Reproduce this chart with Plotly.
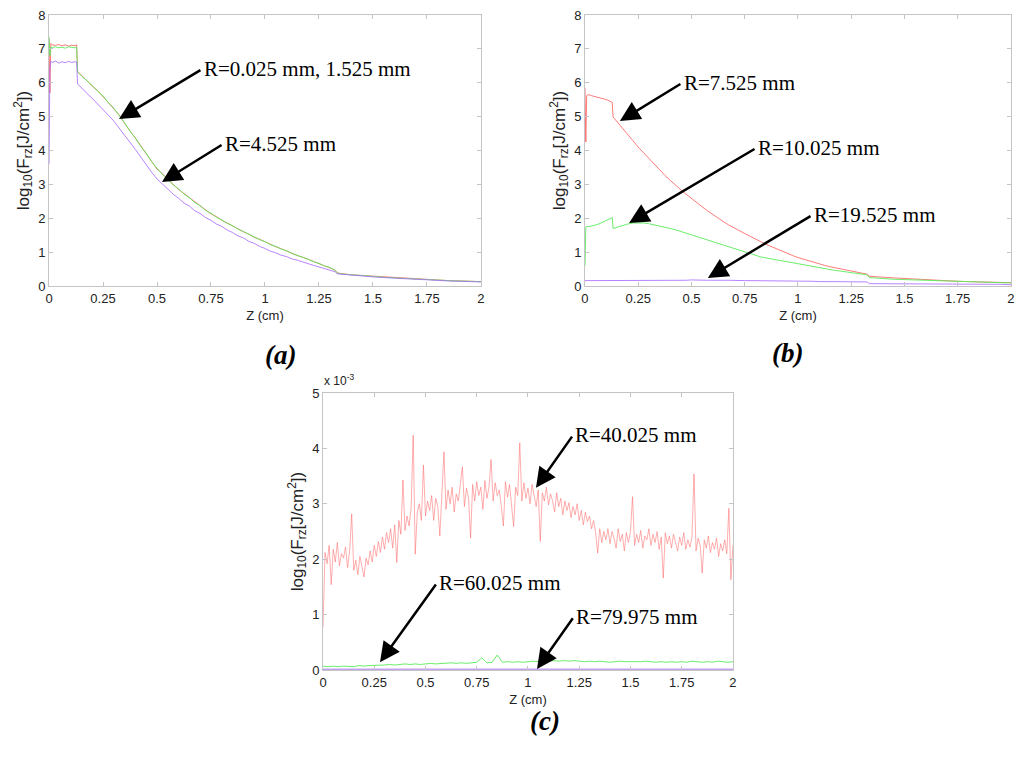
import numpy as np
import plotly.graph_objects as go

# shared Z grid (cm) for panels (a) and (b)
z_ab = [0, 0.004, 0.008, 0.015, 0.03, 0.045, 0.06, 0.075, 0.09, 0.105, 0.12, 0.128, 0.132,
        0.15, 0.175, 0.2, 0.225, 0.25, 0.275, 0.3, 0.325, 0.35, 0.375,
        0.4, 0.425, 0.45, 0.475, 0.5, 0.525, 0.55, 0.575, 0.6, 0.625,
        0.65, 0.675, 0.7, 0.725, 0.75, 0.775, 0.8, 0.825, 0.85, 0.875,
        0.9, 0.925, 0.95, 0.975, 1.0, 1.025, 1.05, 1.075, 1.1, 1.125,
        1.15, 1.175, 1.2, 1.225, 1.25, 1.275, 1.3, 1.325, 1.335, 1.35,
        1.4, 1.45, 1.5, 1.55, 1.6, 1.65, 1.7, 1.75, 1.8, 1.85, 1.9, 1.95, 2.0]

# (a) R=0.025 mm (red), R=1.525 mm (green), R=4.525 mm (purple)
a_r0025 = [7.30, 5.70, 7.16, 7.12, 7.10, 7.13, 7.09, 7.12, 7.08, 7.11, 7.09, 7.12, 6.34,
           6.22, 6.08, 5.90, 5.77, 5.59, 5.43, 5.23, 5.05, 4.80, 4.59,
           4.35, 4.14, 3.90, 3.69, 3.45, 3.31, 3.14, 3.00, 2.85, 2.73,
           2.59, 2.48, 2.35, 2.25, 2.13, 2.05, 1.94, 1.86, 1.77, 1.69,
           1.60, 1.53, 1.44, 1.38, 1.30, 1.23, 1.16, 1.10, 1.03, 0.97,
           0.90, 0.85, 0.78, 0.72, 0.66, 0.60, 0.54, 0.47, 0.39, 0.37,
           0.33, 0.31, 0.28, 0.26, 0.24, 0.22, 0.21, 0.19, 0.18, 0.16, 0.15, 0.14, 0.13]
a_r1525 = [7.36, 6.80, 7.05, 7.04, 7.06, 7.03, 7.05, 7.02, 7.06, 7.04, 7.03, 7.05, 6.32,
           6.20, 6.06, 5.92, 5.75, 5.61, 5.41, 5.25, 5.03, 4.82, 4.57,
           4.37, 4.12, 3.92, 3.67, 3.47, 3.29, 3.16, 2.98, 2.87, 2.71,
           2.61, 2.46, 2.37, 2.23, 2.15, 2.03, 1.95, 1.85, 1.78, 1.68,
           1.61, 1.52, 1.45, 1.37, 1.31, 1.22, 1.17, 1.09, 1.04, 0.96,
           0.91, 0.84, 0.79, 0.72, 0.67, 0.59, 0.55, 0.46, 0.38, 0.36,
           0.33, 0.30, 0.28, 0.26, 0.24, 0.22, 0.20, 0.19, 0.17, 0.16, 0.15, 0.14, 0.13]
a_r4525 = [3.60, 6.40, 6.63, 6.60, 6.64, 6.58, 6.62, 6.59, 6.63, 6.60, 6.62, 6.61, 5.97,
           5.84, 5.69, 5.54, 5.38, 5.23, 5.04, 4.87, 4.67, 4.47, 4.24,
           4.03, 3.80, 3.59, 3.36, 3.16, 3.00, 2.87, 2.71, 2.59, 2.45,
           2.36, 2.22, 2.14, 2.02, 1.94, 1.83, 1.76, 1.65, 1.58, 1.48,
           1.42, 1.32, 1.26, 1.17, 1.11, 1.03, 0.98, 0.91, 0.87, 0.80,
           0.76, 0.70, 0.66, 0.61, 0.56, 0.51, 0.47, 0.42, 0.36, 0.35,
           0.32, 0.29, 0.27, 0.25, 0.23, 0.21, 0.19, 0.18, 0.17, 0.15, 0.14, 0.13, 0.12]

# (b) R=7.525 mm (red), R=10.025 mm (green), R=19.525 mm (purple)
b_r7525 = [5.85, 4.25, 5.62, 5.65, 5.62, 5.60, 5.58, 5.55, 5.52, 5.49, 5.45, 5.42, 4.99,
           4.86, 4.67, 4.49, 4.29, 4.10, 3.93, 3.75, 3.58, 3.43, 3.27,
           3.12, 2.97, 2.84, 2.71, 2.58, 2.46, 2.34, 2.22, 2.11, 1.99,
           1.90, 1.80, 1.71, 1.63, 1.55, 1.47, 1.38, 1.31, 1.23, 1.16,
           1.09, 1.03, 0.96, 0.90, 0.84, 0.79, 0.74, 0.70, 0.65, 0.61,
           0.57, 0.54, 0.50, 0.47, 0.44, 0.41, 0.38, 0.35, 0.29, 0.28,
           0.26, 0.24, 0.22, 0.20, 0.18, 0.17, 0.15, 0.14, 0.13, 0.12, 0.115, 0.11, 0.10]
b_r10025 = [0.60, 1.74, 1.76, 1.75, 1.77, 1.79, 1.82, 1.86, 1.90, 1.94, 1.99, 2.02, 1.70,
            1.74, 1.79, 1.83, 1.86, 1.87, 1.86, 1.84, 1.81, 1.78, 1.74,
            1.70, 1.66, 1.61, 1.56, 1.51, 1.46, 1.41, 1.35, 1.30, 1.25,
            1.20, 1.14, 1.09, 1.04, 0.99, 0.95, 0.90, 0.86, 0.83, 0.80,
            0.77, 0.74, 0.71, 0.68, 0.65, 0.62, 0.59, 0.56, 0.54, 0.51,
            0.49, 0.46, 0.44, 0.42, 0.40, 0.37, 0.35, 0.33, 0.25, 0.24,
            0.22, 0.20, 0.19, 0.17, 0.16, 0.15, 0.14, 0.13, 0.12, 0.11, 0.10, 0.10, 0.09]
b_r19525 = [0.16, 0.16, 0.16, 0.16, 0.15, 0.16, 0.16, 0.15, 0.16, 0.16, 0.15, 0.16, 0.15,
            0.16, 0.15, 0.16, 0.16, 0.15, 0.16, 0.16, 0.16, 0.16, 0.17,
            0.16, 0.17, 0.17, 0.17, 0.18, 0.17, 0.18, 0.17, 0.17, 0.18,
            0.17, 0.17, 0.16, 0.17, 0.16, 0.16, 0.16, 0.15, 0.16, 0.15,
            0.15, 0.15, 0.14, 0.15, 0.14, 0.14, 0.14, 0.14, 0.13, 0.14,
            0.13, 0.13, 0.13, 0.13, 0.12, 0.13, 0.12, 0.12, 0.07, 0.07,
            0.07, 0.07, 0.06, 0.06, 0.06, 0.06, 0.06, 0.05, 0.05, 0.05, 0.05, 0.05, 0.04]

# (c) values in units of 1e-3
c_r40025 = [0.78, 2.12, 1.92, 2.25, 1.54, 2.18, 1.95, 2.30, 1.88, 2.10,
            2.02, 2.22, 1.85, 2.15, 2.82, 1.80, 1.98, 1.72, 2.05, 1.85,
            1.68, 2.02, 1.90, 2.15, 1.95, 2.25, 2.05, 2.32, 2.12, 2.40,
            2.18, 2.48, 2.30, 2.55, 2.20, 2.62, 1.94, 2.70, 2.45, 3.43,
            2.52, 2.78, 2.60, 2.92, 4.24, 2.09, 2.85, 3.00, 2.70, 3.70,
            2.78, 3.05, 2.88, 3.15, 2.70, 3.10, 2.95, 2.42, 3.20, 3.94,
            2.90, 3.25, 3.00, 3.30, 2.85, 3.18, 3.05, 3.35, 3.67, 2.95,
            3.28, 3.10, 2.38, 3.35, 3.05, 3.40, 3.15, 3.30, 2.90, 3.42,
            3.10, 3.30, 3.80, 3.05, 3.38, 3.15, 3.25, 2.95, 2.60, 3.40,
            3.12, 3.35, 3.00, 2.59, 3.30, 3.15, 4.10, 3.05, 3.38, 3.10,
            3.28, 3.00, 3.35, 3.12, 2.95, 3.25, 2.32, 3.20, 3.05, 3.30,
            2.98, 3.18, 3.05, 2.85, 3.20, 2.95, 3.10, 2.80, 3.05, 2.88,
            3.02, 2.75, 2.95, 2.80, 3.00, 2.70, 2.88, 2.62, 2.85, 2.68,
            2.78, 2.55, 2.70, 2.48, 2.11, 2.55, 2.30, 2.50, 2.35, 2.55,
            2.28, 2.50, 2.38, 2.20, 2.55, 2.32, 2.45, 2.15, 2.48, 2.30,
            2.50, 3.13, 2.25, 2.45, 2.30, 2.52, 2.20, 2.42, 2.35, 2.55,
            2.25, 2.45, 2.30, 2.50, 2.18, 2.40, 1.66, 2.48, 2.28, 2.42,
            2.20, 2.45, 2.32, 2.15, 2.40, 2.25, 2.48, 2.18, 2.35, 2.22,
            2.40, 3.54, 2.15, 2.38, 2.25, 1.75, 2.35, 2.20, 2.42, 2.12,
            2.30, 2.18, 2.38, 2.05, 2.28, 2.15, 2.35, 2.10, 2.92, 1.63,
            2.25]
c_r60025 = [0.07, 0.06, 0.07, 0.06, 0.07, 0.07, 0.06, 0.08, 0.07, 0.08,
            0.08, 0.09, 0.09, 0.10, 0.09, 0.10, 0.11, 0.10, 0.11, 0.10,
            0.11, 0.12, 0.11, 0.12, 0.12, 0.13, 0.12, 0.13, 0.12, 0.13,
            0.14, 0.22, 0.13, 0.14, 0.27, 0.14, 0.15, 0.14, 0.15, 0.14,
            0.15, 0.16, 0.15, 0.17, 0.16, 0.17, 0.16, 0.17, 0.16, 0.17,
            0.16, 0.15, 0.16, 0.15, 0.16, 0.15, 0.14, 0.15, 0.16, 0.15,
            0.15, 0.14, 0.15, 0.16, 0.15, 0.14, 0.15, 0.14, 0.15, 0.14,
            0.15, 0.14, 0.16, 0.15, 0.14, 0.15, 0.14, 0.16, 0.15, 0.14,
            0.15]
c_r79975 = [0.01, 0.01, 0.01, 0.01, 0.01]

z_c_red = np.linspace(0, 2, len(c_r40025))
z_c_green = np.linspace(0, 2, len(c_r60025))
z_c_purple = np.linspace(0, 2, len(c_r79975))

z_ticks = [0, 0.25, 0.5, 0.75, 1, 1.25, 1.5, 1.75, 2]
z_ticktext = ['0', '0.25', '0.5', '0.75', '1', '1.25', '1.5', '1.75', '2']

RED = 'rgba(255,90,90,0.8)'
GREEN = 'rgba(90,235,90,0.9)'
PURPLE = 'rgba(170,110,255,0.85)'

fig = go.Figure()

def add_line(x, y, color, xa, ya, width=1):
    fig.add_trace(go.Scatter(x=x, y=y, mode='lines', xaxis=xa, yaxis=ya,
                             line=dict(color=color, width=width), showlegend=False))

add_line(z_ab, a_r0025, RED, 'x', 'y')
add_line(z_ab, a_r1525, GREEN, 'x', 'y')
add_line(z_ab, a_r4525, PURPLE, 'x', 'y')
add_line(z_ab, b_r7525, RED, 'x2', 'y2')
add_line(z_ab, b_r10025, GREEN, 'x2', 'y2')
add_line(z_ab, b_r19525, PURPLE, 'x2', 'y2')
add_line(z_c_red, c_r40025, 'rgba(255,100,100,0.75)', 'x3', 'y3', 0.7)
add_line(z_c_green, c_r60025, GREEN, 'x3', 'y3')
add_line(z_c_purple, c_r79975, 'rgba(190,150,240,0.9)', 'x3', 'y3', 2)

tick_font = dict(family='Liberation Sans', size=13, color='#222')
axis_style = dict(showline=True, linecolor='#c4c4c4', linewidth=1, mirror='ticks',
                  ticks='inside', ticklen=4, tickcolor='#c4c4c4', showgrid=False,
                  zeroline=False, tickfont=tick_font, automargin=False,
                  ticklabeloverflow='allow')
ytitle = 'log<sub>10</sub>(F<sub>rz</sub>[J/cm<sup>2</sup>])'

def xaxis(domain, anchor, standoff):
    return dict(axis_style, domain=domain, anchor=anchor, range=[0, 2],
                tickvals=z_ticks, ticktext=z_ticktext,
                title=dict(text='Z (cm)', font=tick_font, standoff=standoff))

def yaxis(domain, anchor, top):
    return dict(axis_style, domain=domain, anchor=anchor, range=[0, top], dtick=1,
                title=dict(text=ytitle, standoff=4,
                           font=dict(family='Liberation Sans', size=17, color='#222')))

# the page body adds an 8 px border, so the figure is 1008 x 743
fig.update_layout(
    width=1008, height=743,
    margin=dict(l=0, r=0, t=0, b=0),
    paper_bgcolor='white', plot_bgcolor='white',
    xaxis=xaxis([0.0407, 0.4692], 'y', 6),
    yaxis=yaxis([0.6258, 0.9906], 'x', 8),
    xaxis2=xaxis([0.5724, 0.9950], 'y2', 6),
    yaxis2=yaxis([0.6258, 0.9906], 'x2', 8),
    xaxis3=xaxis([0.3125, 0.7192], 'y3', 6),
    yaxis3=yaxis([0.1090, 0.4818], 'x3', 5),
)

# arrows: (panel, tail x, tail y, tip x, tip y, label)
arrows = [
    ('', 0.708, 6.40, 0.324, 4.93, 'R=0.025 mm, 1.525 mm'),
    ('', 0.806, 4.19, 0.523, 3.07, 'R=4.525 mm'),
    ('2', 0.455, 5.99, 0.164, 4.87, 'R=7.525 mm'),
    ('2', 0.803, 4.07, 0.207, 1.86, 'R=10.025 mm'),
    ('2', 1.066, 2.09, 0.577, 0.24, 'R=19.525 mm'),
    ('3', 1.220, 4.24, 1.039, 3.29, 'R=40.025 mm'),
    ('3', 0.556, 1.57, 0.278, 0.14, 'R=60.025 mm'),
    ('3', 1.224, 0.96, 1.044, 0.02, 'R=79.975 mm'),
]
for p, tx, ty, hx, hy, label in arrows:
    fig.add_annotation(x=hx, y=hy, ax=tx, ay=ty, xref='x' + p, yref='y' + p,
                       axref='x' + p, ayref='y' + p, text='', showarrow=True,
                       arrowhead=2, arrowsize=1.6, arrowwidth=2.5, arrowcolor='black')
    fig.add_annotation(x=tx, y=ty, xref='x' + p, yref='y' + p, text=label,
                       showarrow=False, xanchor='left', yanchor='middle',
                       font=dict(family='Liberation Serif', size=21, color='black'))

panel_font = dict(family='Liberation Serif', size=27, color='black')
for px, py, lab in [(0.253, 0.533, '(a)'), (0.791, 0.536, '(b)'), (0.533, 0.0175, '(c)')]:
    fig.add_annotation(x=px, y=py, xref='paper', yref='paper', showarrow=False,
                       text='<b><i>' + lab + '</i></b>', font=panel_font)

fig.add_annotation(x=0.3115, y=0.4993, xref='paper', yref='paper', showarrow=False,
                   xanchor='left', yanchor='middle', text='x 10<sup>-3</sup>',
                   font=dict(family='Liberation Sans', size=12, color='#222'))

fig.write_html('out.html')
